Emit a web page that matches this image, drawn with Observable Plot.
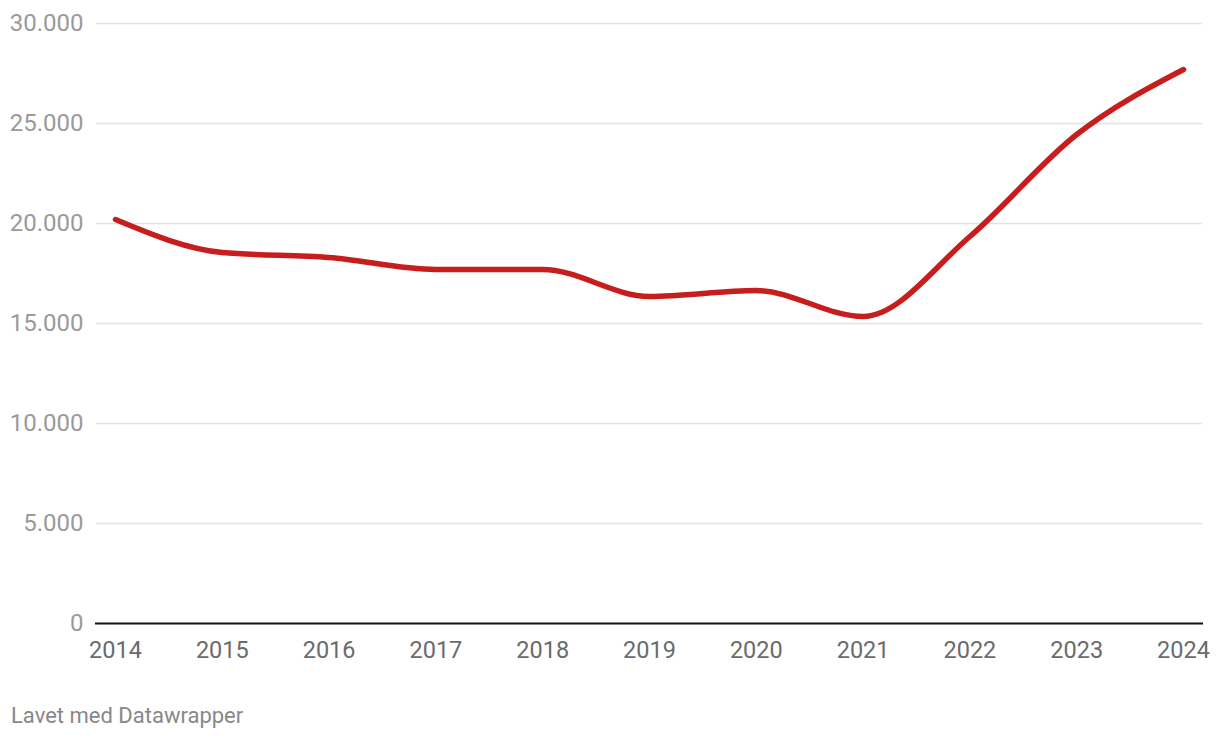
<!DOCTYPE html>
<html>
<head>
<meta charset="utf-8">
<script src="https://cdn.jsdelivr.net/npm/d3@7"></script>
<script src="https://cdn.jsdelivr.net/npm/@observablehq/plot@0.6"></script>
<style>
  body { margin: 0; background: #fff; font-family: Roboto, sans-serif; }
  #chart svg { display: block; }
  #footer { margin-top: 33px; margin-left: 11px; font-size: 22px; line-height: 26px; color: #888; font-family: Roboto, sans-serif; }
</style>
</head>
<body>
<div id="chart"></div>
<div id="footer">Lavet med Datawrapper</div>
<script>
const years = [2014, 2015, 2016, 2017, 2018, 2019, 2020, 2021, 2022, 2023, 2024];
const values = [20200, 18550, 18300, 17700, 17700, 16350, 16650, 15350, 19350, 24450, 27700];
const yTicks = [0, 5000, 10000, 15000, 20000, 25000, 30000];
const data = years.map((y, i) => ({year: y, value: values[i]}));
const fmt = d => d3.format(",")(d).replace(/,/g, ".");

const chart = Plot.plot({
  width: 1220,
  height: 670,
  marginLeft: 115,
  marginRight: 37,
  marginTop: 23,
  marginBottom: 47,
  style: {fontFamily: "Roboto, sans-serif", background: "#fff"},
  x: {domain: [2014, 2024], label: null},
  y: {domain: [0, 30000], label: null},
  marks: [
    Plot.ruleY(yTicks.filter(d => d > 0), {stroke: "#e3e3e3", strokeWidth: 1.3, insetLeft: -19, insetRight: -19}),
    Plot.axisY(yTicks, {tickSize: 0, tickPadding: 32, tickFormat: fmt, fontSize: 24, fill: "#9a9a9a", anchor: "left", label: null}),
    Plot.axisX(years, {tickSize: 0, tickPadding: 18, tickFormat: d => String(d), fontSize: 23.5, fill: "#6b6b6b", anchor: "bottom", label: null}),
    Plot.ruleY([0], {stroke: "#111", strokeWidth: 2, insetLeft: -20, insetRight: -20}),
    Plot.line(data, {x: "year", y: "value", curve: "monotone-x", stroke: "#c71e1d", strokeWidth: 5.5, strokeLinecap: "round", strokeLinejoin: "round"})
  ]
});
document.getElementById("chart").appendChild(chart);
</script>
</body>
</html>
